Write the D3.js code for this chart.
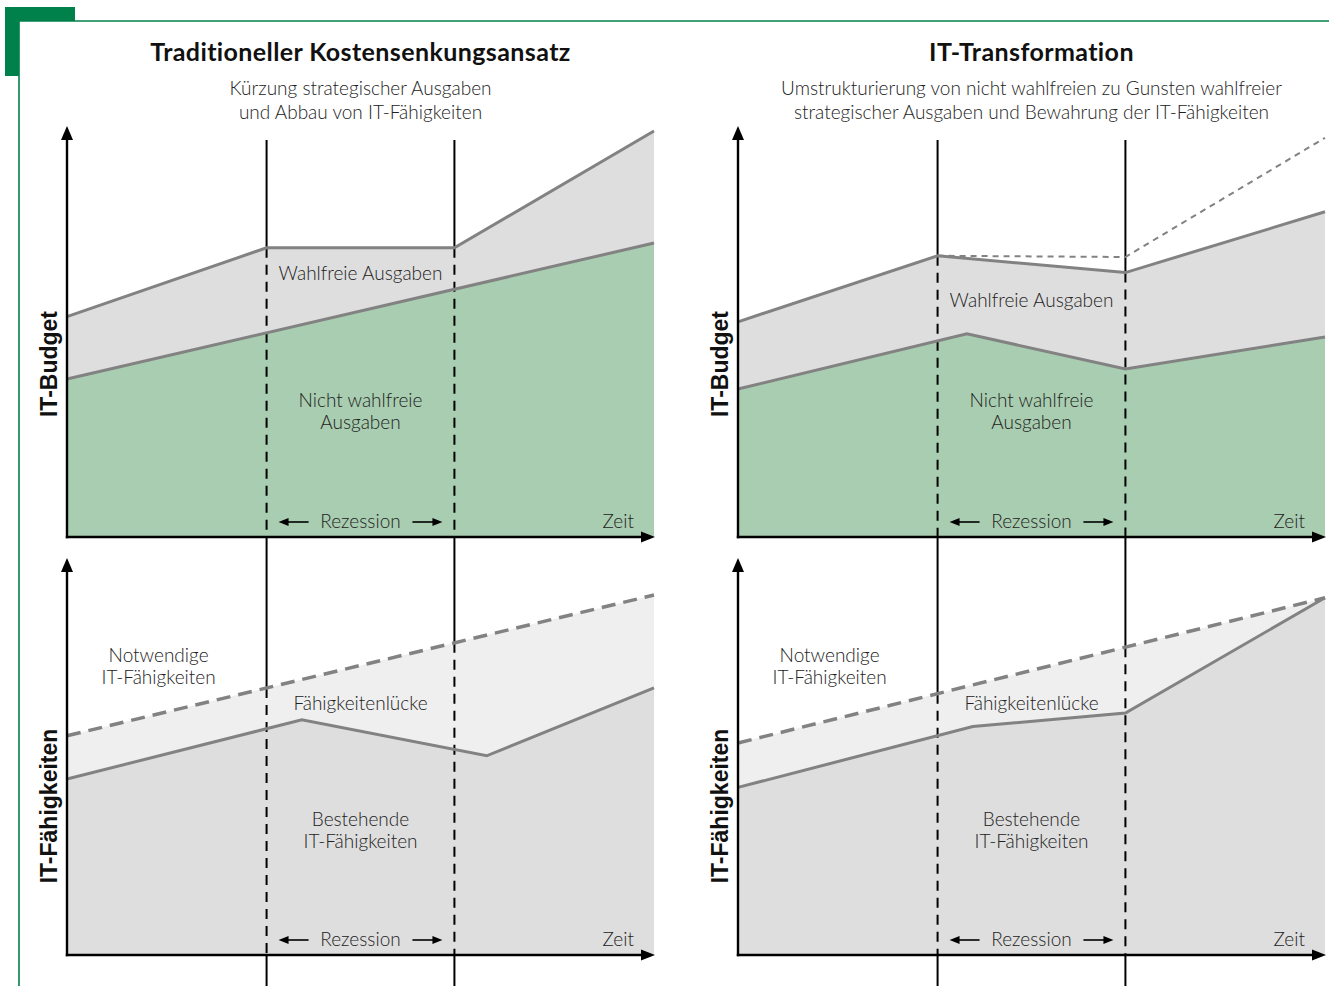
<!DOCTYPE html>
<html>
<head>
<meta charset="utf-8">
<script src="https://cdn.jsdelivr.net/npm/d3@7"></script>
<style>
  html, body { margin: 0; padding: 0; background: #fff; }
  svg { display: block; }
  text { font-variant-ligatures: none; }
  .title { font-family: Lato, "Open Sans", sans-serif; font-weight: 700; font-size: 25px; letter-spacing: 0.4px; fill: #111; }
  .sub { font-family: Lato, "Open Sans", sans-serif; font-weight: 300; font-size: 19px; fill: #222; }
  .lbl { font-family: Lato, "Open Sans", sans-serif; font-weight: 300; font-size: 19px; fill: #222; }
  .ylab { font-family: "Liberation Sans", Arial, sans-serif; font-weight: 700; font-size: 23px; fill: #111; }
</style>
</head>
<body>
<svg id="chart" width="1329" height="986"></svg>
<script>
// Time runs from 0 to 100 along each panel; the recession spans 34..66.
const recession = [34, 66];

// Panel headings
const panelTitles = ["Traditioneller Kostensenkungsansatz", "IT-Transformation"];
const panelSubtitles = [
  ["Kürzung strategischer Ausgaben", "und Abbau von IT-Fähigkeiten"],
  ["Umstrukturierung von nicht wahlfreien zu Gunsten wahlfreier", "strategischer Ausgaben und Bewahrung der IT-Fähigkeiten"]
];
const axisTitles = ["IT-Budget", "IT-Fähigkeiten"];

// IT budget, traditional cost cutting: [time, level]
const tradBudgetTotal   = [[0, 55.1], [34, 72.3], [66, 72.3], [100, 101.5]];
const tradNonDiscretion = [[0, 39.5], [100, 73.5]];

// IT budget, IT transformation
const transBudgetTotal   = [[0, 53.8], [34, 70.3], [66, 66.1], [100, 81.3]];
const transBudgetPlanned = [[34, 70.3], [66, 70.0], [100, 99.8]];
const transNonDiscretion = [[0, 37.0], [39, 50.8], [66, 42.0], [100, 50.0]];

// IT capabilities, traditional cost cutting
const tradCapRequired = [[0, 54.8], [100, 90.0]];
const tradCapExisting = [[0, 44.0], [40, 58.8], [71.5, 49.8], [100, 66.8]];

// IT capabilities, IT transformation
const transCapRequired = [[0, 53.0], [100, 89.3]];
const transCapExisting = [[0, 41.9], [40, 57.1], [66, 60.5], [100, 89.3]];

const svg = d3.select("#chart");

const GREEN_DARK = "#00804a";
const FILL_GREEN = "#a9cdb0";
const FILL_GREY = "#dedede";
const FILL_LIGHT = "#efefef";
const LINE_GREY = "#828282";

// Corner frame
svg.append("rect").attr("x", 5).attr("y", 7).attr("width", 70).attr("height", 14).attr("fill", GREEN_DARK);
svg.append("rect").attr("x", 5).attr("y", 7).attr("width", 14).attr("height", 69).attr("fill", GREEN_DARK);
svg.append("line").attr("x1", 19).attr("y1", 21).attr("x2", 1329).attr("y2", 21)
  .attr("stroke", GREEN_DARK).attr("stroke-width", 1.6);
svg.append("line").attr("x1", 19).attr("y1", 21).attr("x2", 19).attr("y2", 986)
  .attr("stroke", GREEN_DARK).attr("stroke-width", 1.6);

const panelLeft = [67, 738];
const panelWidth = 587;

function valueAt(series, t) {
  for (let i = 0; i < series.length - 1; i++) {
    const [t0, v0] = series[i], [t1, v1] = series[i + 1];
    if (t >= t0 && t <= t1) return v0 + (v1 - v0) * (t - t0) / (t1 - t0);
  }
  return series[series.length - 1][1];
}

function arrowHead(g, x, y, dir, len, half) {
  let pts;
  if (dir === "up") pts = [[x, y], [x - half, y + len], [x + half, y + len]];
  else if (dir === "right") pts = [[x, y], [x - len, y - half], [x - len, y + half]];
  else pts = [[x, y], [x + len, y - half], [x + len, y + half]];
  g.append("path").attr("d", "M" + pts.map(p => p.join(",")).join("L") + "Z").attr("fill", "#000");
}

function drawChart(g, x, y, opts) {
  const line = d3.line().x(d => x(d[0])).y(d => y(d[1]));
  const base = [[100, 0], [0, 0]];
  // band between upper and lower boundary
  g.append("path")
    .attr("d", line(opts.upper.concat(opts.lower.slice().reverse())) + "Z")
    .attr("fill", opts.upperFill);
  g.append("path")
    .attr("d", line(opts.lower.concat(base)) + "Z")
    .attr("fill", opts.lowerFill);
}

function labelLines(g, cx, y0, lines, dy, cls) {
  lines.forEach((s, i) => {
    g.append("text").attr("class", cls || "lbl").attr("x", cx).attr("y", y0 + i * dy)
      .attr("text-anchor", "middle").text(s);
  });
}

function recessionLabel(g, x, yBase) {
  const cx = (x(recession[0]) + x(recession[1])) / 2;
  g.append("text").attr("class", "lbl").attr("x", cx).attr("y", yBase)
    .attr("text-anchor", "middle").text("Rezession");
  const ay = yBase - 6;
  g.append("line").attr("x1", x(recession[0]) + 20).attr("x2", x(recession[0]) + 42)
    .attr("y1", ay).attr("y2", ay).attr("stroke", "#000").attr("stroke-width", 1.6);
  arrowHead(g, x(recession[0]) + 12, ay, "left", 10, 4);
  g.append("line").attr("x1", x(recession[1]) - 42).attr("x2", x(recession[1]) - 20)
    .attr("y1", ay).attr("y2", ay).attr("stroke", "#000").attr("stroke-width", 1.6);
  arrowHead(g, x(recession[1]) - 12, ay, "right", 10, 4);
  g.append("text").attr("class", "lbl").attr("x", x(100) - 20).attr("y", yBase)
    .attr("text-anchor", "end").text("Zeit");
}

function axes(g, x, y, topY) {
  g.append("line").attr("x1", x(0)).attr("x2", x(0)).attr("y1", y(0) + 1.2).attr("y2", topY + 10)
    .attr("stroke", "#000").attr("stroke-width", 2.4);
  arrowHead(g, x(0), topY, "up", 14, 6);
  g.append("line").attr("x1", x(0) - 1.2).attr("x2", x(100) - 8).attr("y1", y(0)).attr("y2", y(0))
    .attr("stroke", "#000").attr("stroke-width", 2.4);
  arrowHead(g, x(100) + 1, y(0), "right", 14, 5.5);
}

function drawPanel(p) {
  const g = svg.append("g");
  const x = d3.scaleLinear().domain([0, 100]).range([panelLeft[p], panelLeft[p] + panelWidth]);
  const yTop = d3.scaleLinear().domain([0, 100]).range([537, 137]);
  const yBot = d3.scaleLinear().domain([0, 100]).range([955, 555]);
  const cx = x(50);

  const budgetUpper = p === 0 ? tradBudgetTotal : transBudgetTotal;
  const budgetLower = p === 0 ? tradNonDiscretion : transNonDiscretion;
  const capUpper = p === 0 ? tradCapRequired : transCapRequired;
  const capLower = p === 0 ? tradCapExisting : transCapExisting;

  // headings
  g.append("text").attr("class", "title").attr("x", cx).attr("y", 61)
    .attr("text-anchor", "middle").text(panelTitles[p]);
  labelLines(g, cx, 95, panelSubtitles[p], 24, "sub");

  // fills
  drawChart(g, x, yTop, { upper: budgetUpper, lower: budgetLower, upperFill: FILL_GREY, lowerFill: FILL_GREEN });
  drawChart(g, x, yBot, { upper: capUpper, lower: capLower, upperFill: FILL_LIGHT, lowerFill: FILL_GREY });

  // recession boundaries: solid over white, dashed across the filled areas
  recession.forEach(t => {
    const xp = x(t);
    const yA = yTop(valueAt(budgetUpper, t));
    const yB = yBot(valueAt(capUpper, t));
    const seg = (y1, y2, dashed) => {
      const l = g.append("line").attr("x1", xp).attr("x2", xp).attr("y1", y1).attr("y2", y2)
        .attr("stroke", "#000").attr("stroke-width", 2);
      if (dashed) l.attr("stroke-dasharray", "10,7");
    };
    seg(140, yA, false);
    seg(yA, yTop(0), true);
    seg(yTop(0), yB, false);
    seg(yB, yBot(0), true);
    seg(yBot(0), 986, false);
  });

  const lineTop = d3.line().x(d => x(d[0])).y(d => yTop(d[1]));
  const lineBot = d3.line().x(d => x(d[0])).y(d => yBot(d[1]));

  // boundary lines
  if (p === 1) {
    g.append("path").attr("d", lineTop(transBudgetPlanned)).attr("fill", "none")
      .attr("stroke", LINE_GREY).attr("stroke-width", 2).attr("stroke-dasharray", "6,5");
  }
  g.append("path").attr("d", lineTop(budgetUpper)).attr("fill", "none")
    .attr("stroke", LINE_GREY).attr("stroke-width", 3);
  g.append("path").attr("d", lineTop(budgetLower)).attr("fill", "none")
    .attr("stroke", LINE_GREY).attr("stroke-width", 3);
  g.append("path").attr("d", lineBot(capUpper)).attr("fill", "none")
    .attr("stroke", LINE_GREY).attr("stroke-width", 3.5).attr("stroke-dasharray", "14,8");
  g.append("path").attr("d", lineBot(capLower)).attr("fill", "none")
    .attr("stroke", LINE_GREY).attr("stroke-width", 3);

  axes(g, x, yTop, 126);
  axes(g, x, yBot, 558);

  // axis titles
  g.append("text").attr("class", "ylab")
    .attr("transform", `translate(${x(0) - 10},${364}) rotate(-90)`)
    .attr("text-anchor", "middle").text(axisTitles[0]);
  g.append("text").attr("class", "ylab")
    .attr("transform", `translate(${x(0) - 10},${806}) rotate(-90)`)
    .attr("text-anchor", "middle").text(axisTitles[1]);

  // area labels
  labelLines(g, cx, p === 0 ? 280 : 307, ["Wahlfreie Ausgaben"], 22);
  labelLines(g, cx, 407, ["Nicht wahlfreie", "Ausgaben"], 22);
  labelLines(g, x(15.6), 662, ["Notwendige", "IT-Fähigkeiten"], 22);
  labelLines(g, cx, 710, ["Fähigkeitenlücke"], 22);
  labelLines(g, cx, 826, ["Bestehende", "IT-Fähigkeiten"], 22);

  recessionLabel(g, x, 528);
  recessionLabel(g, x, 946);
}

drawPanel(0);
drawPanel(1);
</script>
</body>
</html>
